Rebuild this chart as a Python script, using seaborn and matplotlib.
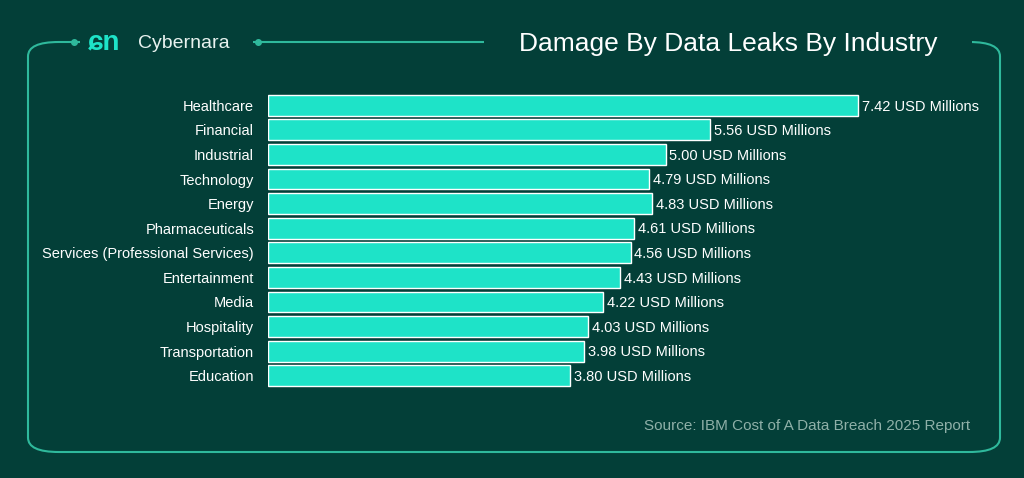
import matplotlib.pyplot as plt
import seaborn as sns
import pandas as pd
from matplotlib.patches import FancyBboxPatch, Rectangle

industries = ['Healthcare', 'Financial', 'Industrial', 'Technology', 'Energy',
              'Pharmaceuticals', 'Services (Professional Services)', 'Entertainment',
              'Media', 'Hospitality', 'Transportation', 'Education']
damage = [7.42, 5.56, 5.00, 4.79, 4.83, 4.61, 4.56, 4.43, 4.22, 4.03, 3.98, 3.80]

BG = '#033f38'
BAR = '#1ee3c8'
LINE = '#2fb99c'

df = pd.DataFrame({'industry': industries, 'damage': damage})

sns.set_theme(style='white')
plt.rcParams['font.family'] = ['Liberation Sans', 'DejaVu Sans']

fig = plt.figure(figsize=(10.24, 4.78), dpi=100)
fig.patch.set_facecolor(BG)
W, H = 1024, 478

# frame
frame = FancyBboxPatch((28 / W, 1 - 452 / H), 972 / W, 410 / H,
                       boxstyle='round,pad=0,rounding_size=0.03', transform=fig.transFigure,
                       fill=False, edgecolor=LINE, linewidth=1.5, zorder=0)
fig.patches.append(frame)
for x0, x1 in [(80, 253), (484, 972)]:
    fig.patches.append(Rectangle((x0 / W, 1 - 52 / H), (x1 - x0) / W, 20 / H,
                                 transform=fig.transFigure, facecolor=BG,
                                 edgecolor='none', zorder=1))
for x in [74, 258]:
    fig.lines.append(plt.Line2D([x / W], [1 - 42 / H], marker='o', markersize=4,
                                color=LINE, transform=fig.transFigure, zorder=2))
fig.text(88 / W, 1 - 42 / H, 'ɕn', color=BAR, fontsize=20, fontweight='bold',
         va='center', ha='left')
fig.text(138 / W, 1 - 43 / H, 'Cybernara', color='#e8f2ef', fontsize=14,
         va='center', ha='left')
fig.text(728 / W, 1 - 44 / H, 'Damage By Data Leaks By Industry', color='white',
         fontsize=19, va='center', ha='center')
fig.text(970 / W, 1 - 426 / H, 'Source: IBM Cost of A Data Breach 2025 Report',
         color='#8fb0a8', fontsize=11, va='center', ha='right')

ax = fig.add_axes([268 / W, 1 - 388 / H, 715 / W, 295 / H])
ax.set_facecolor(BG)
sns.barplot(data=df, x='damage', y='industry', color=BAR, width=0.85,
            saturation=1, ax=ax)
ax.set_xlim(0, 715 / 79.5)
for i, v in enumerate(damage):
    ax.text(v + 0.05, i + 0.05, f'{v:.2f} USD Millions', color='white',
            fontsize=10.5, va='center', ha='left')
ax.set_xlabel('')
ax.set_ylabel('')
ax.set_xticks([])
ax.tick_params(axis='y', length=0, colors='white', labelsize=10.5, pad=10)
sns.despine(ax=ax, left=True, bottom=True)

fig.savefig('out.png', dpi=100, facecolor=BG)
